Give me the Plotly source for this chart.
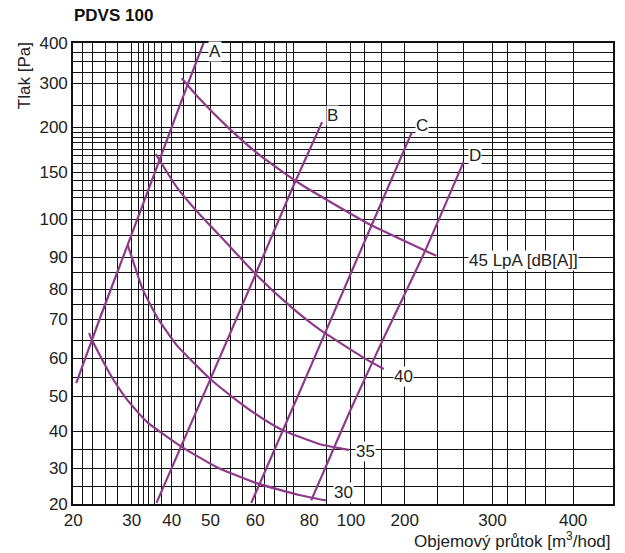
import numpy as np
import plotly.graph_objects as go

# ---------------- data ----------------
X_TICK_VALUES = [20, 30, 40, 50, 60, 80, 100, 200, 300, 400]
Y_TICK_VALUES = [20, 30, 40, 50, 60, 70, 80, 90, 100, 150, 200, 300, 400]

A_flow = [20.5, 24.5, 29.3, 36.5, 43.8, 48.2]
A_pressure = [53.4, 70, 93.2, 158, 289, 400]

B_flow = [36.2, 50, 59.8, 74.4, 86.2]
B_pressure = [20.3, 54.5, 83.8, 137, 211]

C_flow = [59.1, 76.3, 100, 200, 208]
C_pressure = [20.3, 50.8, 85, 176, 194]

D_flow = [81, 99, 157, 222, 267]
D_pressure = [21, 45, 64, 91, 161]

L30_flow = [22.7, 23.2, 26.2, 29, 33.8, 42.6, 51.3, 60.4, 76.3, 88]
L30_pressure = [66.4, 64.6, 56, 49.4, 42.6, 35.7, 30.3, 25.8, 22.5, 21]

L35_flow = [29.3, 30.8, 32.8, 36.5, 41.3, 46.4, 50.2, 54.9, 59.8, 70, 84.8, 99]
L35_pressure = [93.2, 86.9, 79.7, 70.3, 63.3, 58, 54.2, 49.7, 45.1, 40.3, 36.5, 34.9]

L40_flow = [36, 41.3, 47.2, 53.6, 60.4, 73.7, 84.8, 128, 161]
L40_pressure = [170, 134, 105, 93.7, 84.4, 73.7, 67.4, 59.7, 57.1]

L45_flow = [42.6, 47.2, 53.6, 61.5, 76.3, 91, 137, 222, 236]
L45_pressure = [312, 264, 202, 169, 138, 117, 98.4, 91.8, 90.3]

# ---------------- axis layout (scanned nomogram scale) ----------------
# positions on a uniform drawing axis where each tick label sits
X_TICK_POS = [73.3, 132, 172, 211, 256, 310, 352, 406, 494, 575]
Y_TICK_POS = [504, 468, 431, 396, 358, 319, 289, 257, 219, 172, 127, 83, 43]

X_GRID_POS = [82.7, 92.7, 105.3, 117.3, 131.7, 138.7, 143.7, 149, 154.7, 161.7,
              172, 183.7, 195.7, 211, 230.7, 243, 255.7, 265.7, 275.7, 287, 294.7,
              327.3, 351.7, 366, 382.7, 406, 438.7, 464.7, 494, 509, 526.7, 547.3, 575.3]
Y_GRID_POS = [52, 61.5, 72, 83.3, 105.5, 127, 132, 137, 142, 149, 155, 163, 172, 180,
              190, 197.5, 210, 219, 235, 257, 272, 289, 304, 319, 340, 358, 377, 396,
              431, 449, 468, 486]


def fx(v):
    return np.interp(np.asarray(v, dtype=float), X_TICK_VALUES, X_TICK_POS)


def fy(v):
    return np.interp(np.asarray(v, dtype=float), Y_TICK_VALUES, Y_TICK_POS)


PURPLE = "#8e3a8b"
FONT = "Liberation Sans, Arial, Helvetica, sans-serif"
TXT = "#222222"

fig = go.Figure()

curves = [
    ("A", A_flow, A_pressure, 11, -8, "center"),
    ("B", B_flow, B_pressure, 10, 7, "center"),
    ("C", C_flow, C_pressure, 10, 7, "center"),
    ("D", D_flow, D_pressure, 11, 7, "center"),
    ("30", L30_flow, L30_pressure, 18, 8, "center"),
    ("35", L35_flow, L35_pressure, 17, -2, "center"),
    ("40", L40_flow, L40_pressure, 20, -7, "center"),
    ("45 LpA [dB[A]]", L45_flow, L45_pressure, 32, -5, "left"),
]

annotations = []
for name, xs, ys, dx, dy, anchor in curves:
    px = fx(xs)
    py = fy(ys)
    fig.add_trace(go.Scatter(
        x=px, y=py, mode="lines", name=name,
        line=dict(color=PURPLE, width=2.2, shape="spline", smoothing=0.5),
        hoverinfo="skip", showlegend=False,
    ))
    annotations.append(dict(
        x=px[-1], y=py[-1], xref="x", yref="y", text=name, showarrow=False,
        xanchor=anchor, yanchor="middle", xshift=dx, yshift=dy,
        bgcolor="white", borderpad=0,
        font=dict(family=FONT, size=17, color=TXT),
    ))

# titles
annotations.append(dict(
    text="Tlak [Pa]", textangle=-90, xref="paper", yref="paper",
    x=(25 - 73) / 542, y=(504 - 76) / 461, xanchor="center", yanchor="middle",
    showarrow=False, font=dict(family=FONT, size=17, color=TXT),
))
annotations.append(dict(
    text="Objemový průtok [m<sup>3</sup>/hod]", xref="paper", yref="paper",
    x=1.0, y=(504 - 540) / 461, xanchor="right", yanchor="middle",
    showarrow=False, font=dict(family=FONT, size=17, color=TXT),
))

grid_color = "#111111"
W, H = 617, 545  # page body adds an 8 px margin
fig.update_layout(
    width=W, height=H,
    margin=dict(l=65, r=10, t=35, b=49),
    paper_bgcolor="white", plot_bgcolor="white",
    title=dict(text="<b>PDVS 100</b>", x=66 / W, xanchor="left",
               y=1 - 1 / H, yanchor="top",
               font=dict(family=FONT, size=17, color="#111111")),
    annotations=annotations,
    xaxis=dict(
        range=[73, 615], showgrid=False, zeroline=False,
        tickmode="array", tickvals=X_TICK_POS, ticktext=[str(v) for v in X_TICK_VALUES],
        ticks="", tickfont=dict(family=FONT, size=17, color=TXT),
        showline=True, linecolor=grid_color, linewidth=1.6, mirror=True,
        minor=dict(tickmode="array", tickvals=X_GRID_POS, showgrid=True,
                   gridcolor=grid_color, gridwidth=1.3, ticks=""),
    ),
    yaxis=dict(
        range=[504, 43], showgrid=False, zeroline=False,
        tickmode="array", tickvals=Y_TICK_POS, ticktext=[str(v) for v in Y_TICK_VALUES],
        ticks="", tickfont=dict(family=FONT, size=17, color=TXT),
        showline=True, linecolor=grid_color, linewidth=1.6, mirror=True,
        minor=dict(tickmode="array", tickvals=Y_GRID_POS, showgrid=True,
                   gridcolor=grid_color, gridwidth=1.3, ticks=""),
    ),
)

fig.write_html("out.html")
